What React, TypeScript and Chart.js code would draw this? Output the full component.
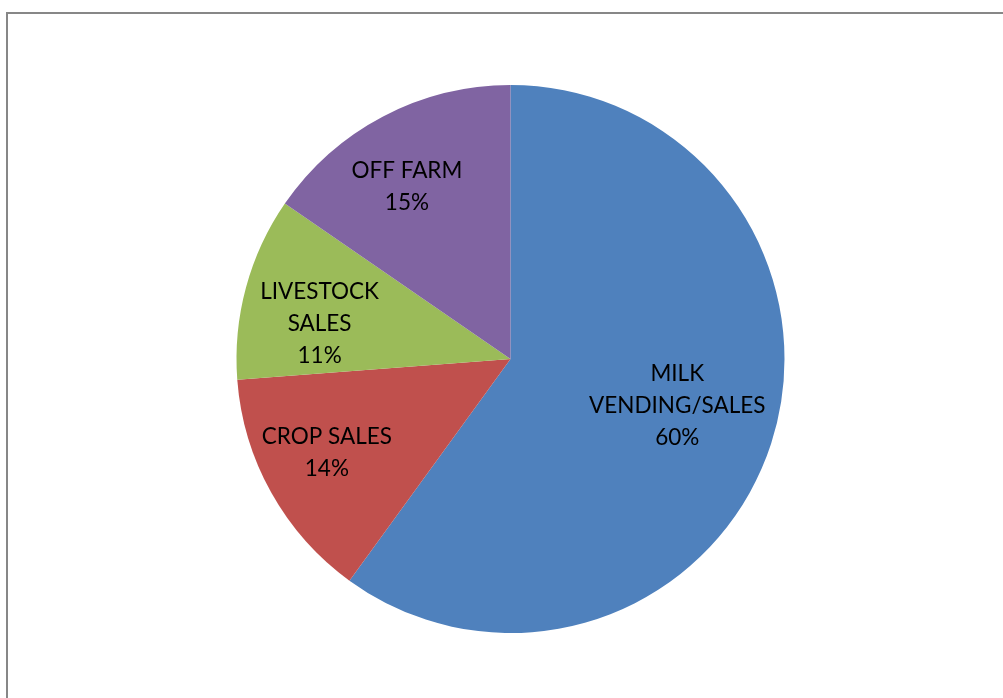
import { useEffect, useRef } from "react";
import { Chart, registerables } from "chart.js";

Chart.register(...registerables);

const categories = ["MILK\nVENDING/SALES", "CROP SALES", "LIVESTOCK\nSALES", "OFF FARM"];
const shares = [60, 13.8, 10.8, 15.4];
const colors = ["#4F81BD", "#C0504D", "#9BBB59", "#8064A2"];

// label placement style: fraction of radius and angle tweak (degrees) per slice
const labelRadius = [0.63, 0.75, 0.71, 0.74];
const labelAngleShift = [-3, 2.5, -4, -3];

const labelPlugin = {
  id: "sliceLabels",
  afterDatasetsDraw(chart: any) {
    const ctx = chart.ctx;
    const meta = chart.getDatasetMeta(0);
    const data = chart.data.datasets[0].data as number[];
    const total = data.reduce((a, b) => a + b, 0);
    ctx.save();
    ctx.font = "22.5px Lato, 'Open Sans', sans-serif";
    ctx.fillStyle = "#000";
    ctx.textAlign = "center";
    ctx.textBaseline = "middle";
    const lh = 32;
    meta.data.forEach((arc: any, i: number) => {
      const { x, y, startAngle, endAngle, outerRadius } = arc.getProps(
        ["x", "y", "startAngle", "endAngle", "outerRadius"],
        true
      );
      const mid = (startAngle + endAngle) / 2 + (labelAngleShift[i] * Math.PI) / 180;
      const r = outerRadius * labelRadius[i];
      const cx = x + Math.cos(mid) * r;
      const cy = y + Math.sin(mid) * r + 2;
      const lines = String(chart.data.labels[i]).split("\n");
      lines.push(Math.round((data[i] / total) * 100) + "%");
      const startY = cy - ((lines.length - 1) * lh) / 2;
      lines.forEach((ln, j) => ctx.fillText(ln, cx, startY + j * lh));
    });
    ctx.restore();
  },
};

export default function App() {
  const ref = useRef<HTMLCanvasElement>(null);
  useEffect(() => {
    if (!ref.current) return;
    const chart = new Chart(ref.current, {
      type: "pie",
      data: {
        labels: categories,
        datasets: [
          {
            data: shares,
            backgroundColor: colors,
            borderWidth: 0,
          },
        ],
      },
      options: {
        animation: false,
        responsive: false,
        layout: { padding: { left: 236, right: 218, top: 85, bottom: 65 } },
        plugins: {
          legend: { display: false },
          tooltip: { enabled: false },
          title: { display: false },
        },
      },
      plugins: [labelPlugin],
    });
    return () => chart.destroy();
  }, []);
  return (
    <div style={{ position: "fixed", left: 0, top: 0, width: 1003, height: 698, background: "#fff", overflow: "hidden" }}>
      <div
        style={{
          position: "absolute",
          left: 6,
          top: 12,
          width: 1100,
          height: 800,
          borderLeft: "2px solid #878787",
          borderTop: "2px solid #878787",
        }}
      />
      <canvas ref={ref} width={1003} height={698} style={{ position: "absolute", left: 0, top: 0 }} />
    </div>
  );
}
